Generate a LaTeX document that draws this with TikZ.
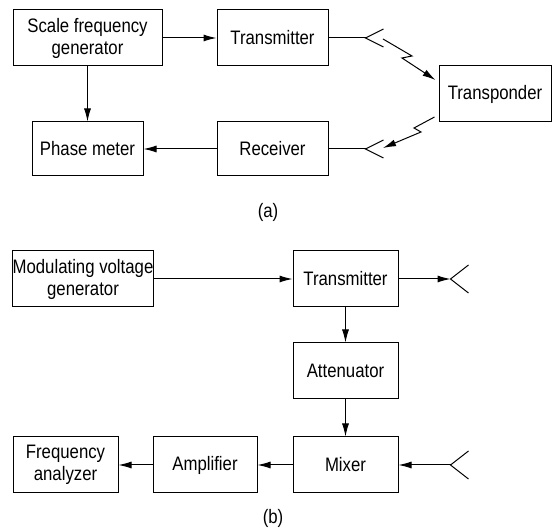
\documentclass[tikz,border=0pt]{standalone}
\usepackage{fontspec}
\setmainfont{Liberation Sans}[FakeStretch=0.86]
\usetikzlibrary{positioning,calc,arrows.meta}
\tikzset{BLOCK/.style={rectangle,draw,line width=0.5pt,minimum height=28pt,inner sep=0pt,align=center,font=\fontsize{9.75}{11}\selectfont}}
\tikzset{ARROW/.style={line width=0.5pt,-{Latex[length=6.5pt,width=3.5pt]}}}
\tikzset{WIRE/.style={line width=0.5pt}}
\tikzset{CAPTION/.style={font=\fontsize{9.75}{11}\selectfont}}

\begin{document}
\begin{tikzpicture}[x=0.5pt,y=-0.5pt]
\useasboundingbox (0,0) rectangle (553,529);

% (a)
\node[BLOCK, minimum width=74.5pt] (n_scale) at (87.5,38) {Scale frequency\\generator};
\node[BLOCK, minimum width=55.5pt] (n_trans_a) at (272.5,38) {Transmitter};
\node[BLOCK, minimum width=55.5pt, minimum height=27pt] (n_phase) at (87.5,149) {Phase meter};
\node[BLOCK, minimum width=55.5pt, minimum height=27pt] (n_recv) at (272.5,149) {Receiver};
\node[BLOCK, minimum width=56pt] (n_transp) at (495,94) {Transponder};

\draw[ARROW] (n_scale.east) -- (n_trans_a.west);
\draw[ARROW] (n_scale.south) -- (n_phase.north);
\draw[ARROW] (n_recv.west) -- (n_phase.east);

\coordinate (c_ant_tx) at ($(n_trans_a.east)+(37,0)$);
\draw[WIRE] (n_trans_a.east) -- (c_ant_tx);
\draw[WIRE] ($(c_ant_tx)+(18,-9)$) -- (c_ant_tx) -- ($(c_ant_tx)+(18,9)$);
\coordinate (c_up_1) at (383,39);
\coordinate (c_up_2) at (412,56);
\coordinate (c_up_3) at (402,58);
\coordinate (c_up_4) at ($(n_transp.west)+(-3,-14)$);
\draw[ARROW] (c_up_1) -- (c_up_2) -- (c_up_3) -- (c_up_4);

\coordinate (c_ant_rx) at ($(n_recv.east)+(37,0)$);
\draw[WIRE] (n_recv.east) -- (c_ant_rx);
\draw[WIRE] ($(c_ant_rx)+(18,-9)$) -- (c_ant_rx) -- ($(c_ant_rx)+(18,9)$);
\coordinate (c_dn_1) at ($(n_transp.west)+(-4,23)$);
\coordinate (c_dn_2) at (414,128);
\coordinate (c_dn_3) at (421,132);
\coordinate (c_dn_4) at (383,148);
\draw[ARROW] (c_dn_1) -- (c_dn_2) -- (c_dn_3) -- (c_dn_4);

\node[CAPTION] (n_cap_a) at (268,212) {(a)};

% (b)
\node[BLOCK, minimum width=70pt] (n_mod) at (83,279) {Modulating voltage\\generator};
\node[BLOCK, minimum width=52.5pt] (n_trans_b) at (345.5,279) {Transmitter};
\node[BLOCK, minimum width=52.5pt] (n_atten) at (345.5,371) {Attenuator};
\node[BLOCK, minimum width=52.5pt] (n_mixer) at (345.5,465) {Mixer};
\node[BLOCK, minimum width=52pt] (n_amp) at (205,465) {Amplifier};
\node[BLOCK, minimum width=52.5pt] (n_freq) at (65.5,465) {Frequency\\analyzer};

\draw[ARROW] (n_mod.east) -- (n_trans_b.west);
\draw[ARROW] (n_trans_b.south) -- (n_atten.north);
\draw[ARROW] (n_atten.south) -- (n_mixer.north);
\draw[ARROW] (n_mixer.west) -- (n_amp.east);
\draw[ARROW] (n_amp.west) -- (n_freq.east);

\coordinate (c_ant_out) at ($(n_trans_b.east)+(52,0)$);
\draw[ARROW] (n_trans_b.east) -- (c_ant_out);
\draw[WIRE] ($(c_ant_out)+(18,-14)$) -- (c_ant_out) -- ($(c_ant_out)+(18,14)$);

\coordinate (c_ant_in) at ($(n_mixer.east)+(52,0)$);
\draw[ARROW] (c_ant_in) -- (n_mixer.east);
\draw[WIRE] ($(c_ant_in)+(18,-14)$) -- (c_ant_in) -- ($(c_ant_in)+(18,14)$);

\node[CAPTION] (n_cap_b) at (273,518) {(b)};

\end{tikzpicture}
\end{document}
